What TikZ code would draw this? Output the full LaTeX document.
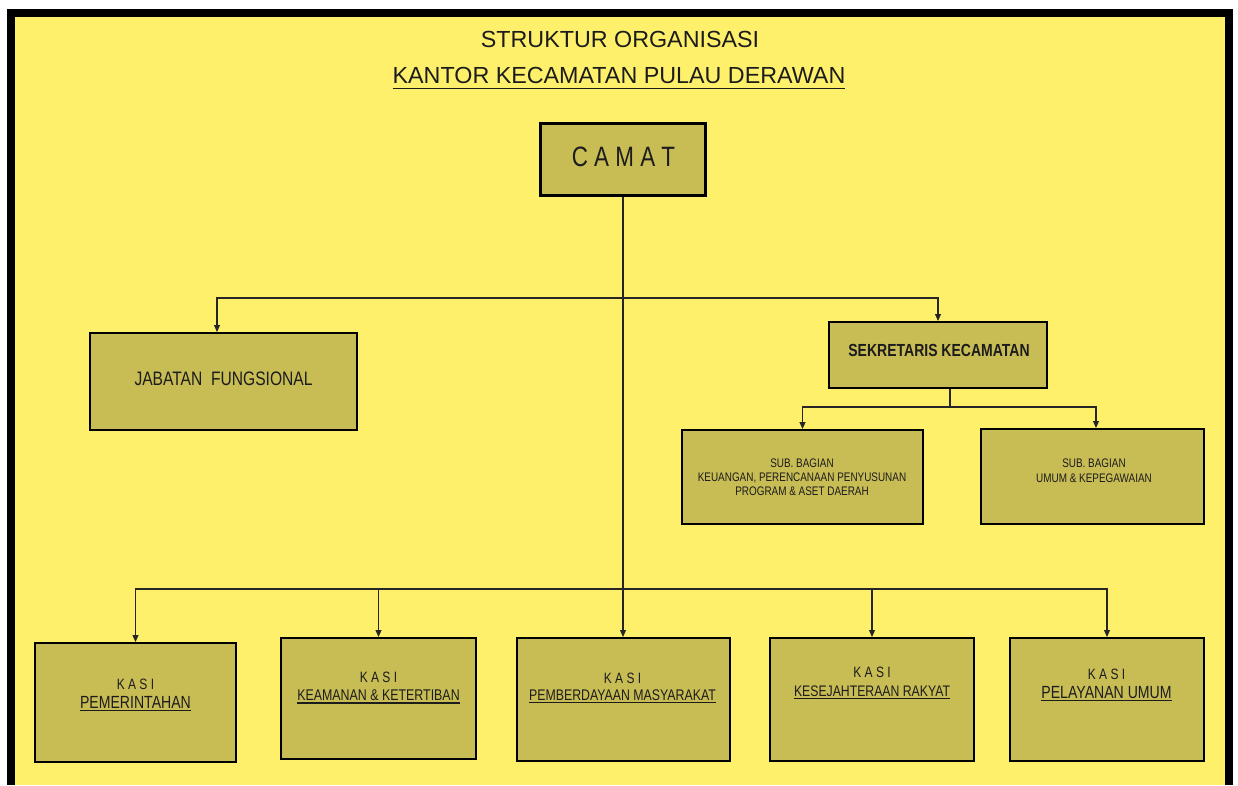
\documentclass[tikz,border=0pt]{standalone}
\usepackage{fontspec}
\setmainfont{Liberation Sans}
\newfontfamily\narrowsf[FakeStretch=0.8]{Liberation Sans}
\usetikzlibrary{arrows.meta}
\definecolor{paper}{HTML}{FFF06C}
\definecolor{boxfill}{HTML}{C8BC55}
\definecolor{ink}{HTML}{1C1C1C}
\newcommand\ulined[2][2.6pt]{\setbox0\hbox{#2}\rlap{\rule[-#1]{\wd0}{1.3pt}}\box0}

\begin{document}
\begin{tikzpicture}[
  x=1pt, y=-1pt,
  box/.style={draw=black, line width=2pt, fill=boxfill, inner sep=0pt},
  lbl/.style={text=ink, align=center, inner sep=0pt, font=\narrowsf},
  link/.style={draw=black!85, line width=1.1pt},
  arr/.style={link, -{Triangle[length=7pt,width=6pt]}},
]
\useasboundingbox (0,0) rectangle (1238,785);
\fill[black] (7,9) rectangle (1233,785);
\fill[paper] (15,17) rectangle (1225,785);

% title
\node[text=ink, inner sep=0pt, anchor=base, font=\fontsize{23.3}{28}\selectfont] (title) at (620,47) {STRUKTUR ORGANISASI};
\node[text=ink, inner sep=0pt, anchor=base, font=\fontsize{23.3}{28}\selectfont] (subtitle) at (619,83) {\ulined[6pt]{KANTOR KECAMATAN PULAU DERAWAN}};

% boxes
\node[box, line width=3.5pt, minimum width=165pt, minimum height=72pt] (camat) at (623,159.5) {};
\node[box, minimum width=267pt, minimum height=97pt] (jabatan) at (223.5,381.5) {};
\node[box, minimum width=218pt, minimum height=66pt] (sekre) at (938,355) {};
\node[box, minimum width=241pt, minimum height=94pt] (subkeu) at (802.5,477) {};
\node[box, minimum width=223pt, minimum height=95pt] (subumum) at (1092.5,476.5) {};
\node[box, minimum width=201pt, minimum height=119pt] (kasi1) at (135.5,702.5) {};
\node[box, minimum width=195pt, minimum height=121pt] (kasi2) at (378.5,698.5) {};
\node[box, minimum width=213pt, minimum height=123pt] (kasi3) at (623,699.5) {};
\node[box, minimum width=204pt, minimum height=123pt] (kasi4) at (872,699.5) {};
\node[box, minimum width=194pt, minimum height=123pt] (kasi5) at (1107,699.5) {};

% texts
\node[lbl, font=\narrowsf\fontsize{28}{30}\selectfont] (camat-txt) at (623.5,157) {C A M A T};
\node[lbl, font=\narrowsf\fontsize{19.5}{22}\selectfont] (jabatan-txt) at (223.5,379) {JABATAN\ \ FUNGSIONAL};
\node[lbl, font=\narrowsf\bfseries\fontsize{17.5}{20}\selectfont] (sekre-txt) at (939,350.5) {SEKRETARIS KECAMATAN};
\node[lbl, font=\narrowsf\fontsize{12.4}{14}\selectfont] (subkeu-txt) at (802,477) {SUB. BAGIAN\\KEUANGAN, PERENCANAAN PENYUSUNAN\\PROGRAM \& ASET DAERAH};
\node[lbl, font=\narrowsf\fontsize{12.4}{14.5}\selectfont] (subumum-txt) at (1094,470.5) {SUB. BAGIAN\\UMUM \& KEPEGAWAIAN};
\node[lbl, font=\narrowsf\fontsize{17.6}{19}\selectfont] (kasi1-txt) at (135.5,695) {{\fontsize{15}{19}\selectfont K A S I}\\\ulined{PEMERINTAHAN}};
\node[lbl, font=\narrowsf\fontsize{15.5}{18}\selectfont] (kasi2-txt) at (378.5,688) {{\fontsize{15}{18}\selectfont K A S I}\\\ulined{KEAMANAN \& KETERTIBAN}};
\node[lbl, font=\narrowsf\fontsize{15.4}{17}\selectfont] (kasi3-txt) at (622.5,688) {{\fontsize{15}{17}\selectfont K A S I}\\\ulined{PEMBERDAYAAN MASYARAKAT}};
\node[lbl, font=\narrowsf\fontsize{15.3}{19}\selectfont] (kasi4-txt) at (872,683) {{\fontsize{15}{19}\selectfont K A S I}\\\ulined{KESEJAHTERAAN RAKYAT}};
\node[lbl, font=\narrowsf\fontsize{17.6}{19}\selectfont] (kasi5-txt) at (1106.5,685) {{\fontsize{15}{19}\selectfont K A S I}\\\ulined{PELAYANAN UMUM}};

% connectors
\coordinate (topbus) at (623,298);
\coordinate (lowbus) at (623,589);
\coordinate (sekbus) at (950,407);
\draw[arr] (camat.south) -- (kasi3.north);
\draw[arr] (topbus) -| ([xshift=-6.5pt]jabatan.north);
\draw[arr] (topbus) -| (sekre.north);
\foreach \k in {kasi1,kasi2,kasi4,kasi5}
  \draw[arr] (lowbus) -| (\k.north);
\draw[link] (sekre.south -| sekbus) -- (sekbus);
\draw[arr] (sekbus) -| (subkeu.north);
\draw[arr] (sekbus) -| ([xshift=3.5pt]subumum.north);
\end{tikzpicture}
\end{document}
